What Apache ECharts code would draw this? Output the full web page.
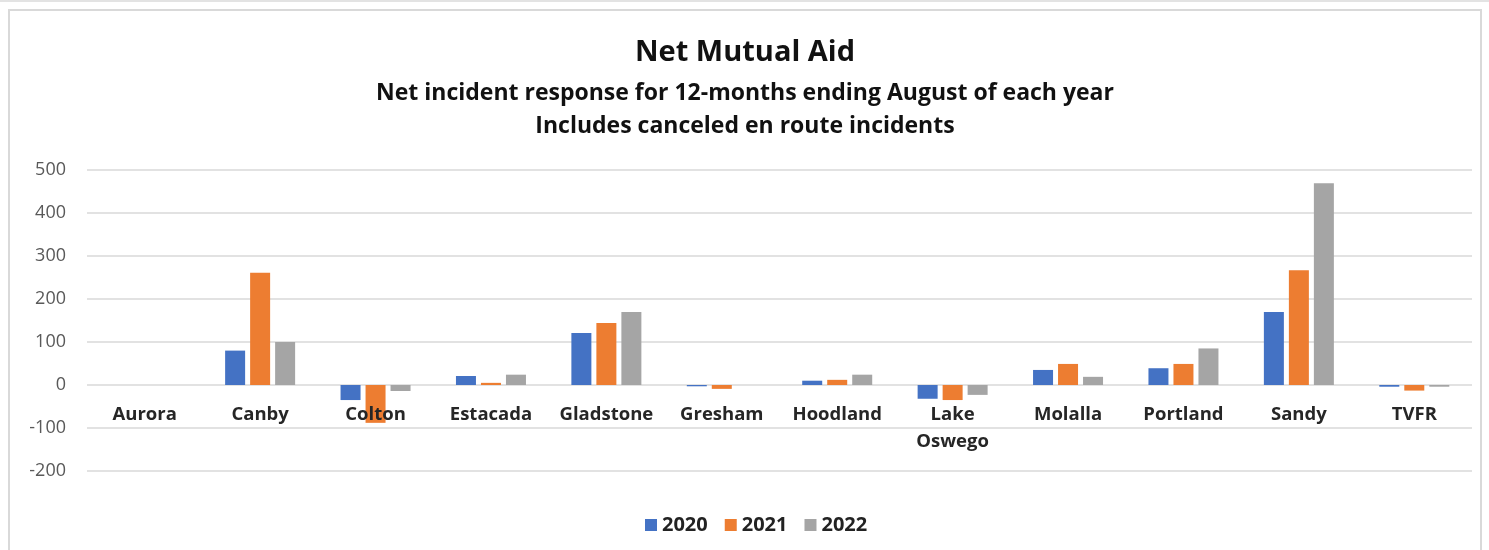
<!DOCTYPE html>
<html>
<head>
<meta charset="utf-8">
<script src="https://cdn.jsdelivr.net/npm/echarts@6/dist/echarts.min.js"></script>
<style>
  html, body { margin: 0; padding: 0; background: #fff; }
  #topline { position: absolute; left: 0; top: 0; width: 1489px; height: 2px; background: #e3e3e3; }
  #container { position: absolute; left: 8px; top: 9px; width: 1474px; height: 545px; border: 2px solid #d9d9d9; box-sizing: border-box; }
</style>
</head>
<body>
<div id="topline"></div>
<div id="container"></div>
<script>
const categories = ["Aurora", "Canby", "Colton", "Estacada", "Gladstone", "Gresham",
  "Hoodland", "Lake\nOswego", "Molalla", "Portland", "Sandy", "TVFR"];
const years = ["2020", "2021", "2022"];
const values2020 = [0, 80, -35, 21, 121, -3, 10, -32, 35, 39, 170, -4];
const values2021 = [0, 261, -88, 5, 144, -9, 12, -35, 49, 49, 267, -13];
const values2022 = [0, 100, -14, 24, 170, 0, 24, -23, 19, 85, 469, -4];
const yTicks = [-200, 500, 100]; // min, max, interval

let dom = document.getElementById("container");
let myChart = echarts.init(dom, null, { renderer: "canvas" });

const colors = ["#4472C4", "#ED7D31", "#A5A5A5"];
const seriesData = [values2020, values2021, values2022];
const titleFont = "Open Sans";

// grid is 301px tall for 700 units -> zero line sits 2 ticks (86px) above bottom
const gridTop = 159, gridBottom = 81, gridH = 301;
const zeroOffset = -gridH * (0 - yTicks[0]) / (yTicks[1] - yTicks[0]);

let option = {
  animation: false,
  color: colors,
  title: [
    {
      text: "Net Mutual Aid",
      left: "center",
      top: 22,
      textStyle: { fontFamily: titleFont, fontSize: 29, fontWeight: "bold", color: "#111" },
    },
    {
      text: "Net incident response for 12-months ending August of each year",
      left: "center",
      top: 66,
      textStyle: { fontFamily: titleFont, fontSize: 23, fontWeight: "bold", color: "#111" },
    },
    {
      text: "Includes canceled en route incidents",
      left: "center",
      top: 99,
      textStyle: { fontFamily: titleFont, fontSize: 23, fontWeight: "bold", color: "#111" },
    },
  ],
  legend: {
    top: 499,
    left: 630,
    itemWidth: 12,
    itemHeight: 12,
    itemGap: 17,
    icon: "rect",
    textStyle: { fontFamily: titleFont, fontSize: 20, fontWeight: "bold", color: "#222" },
    data: years,
  },
  grid: { left: 77, right: 8, top: gridTop, bottom: gridBottom },
  xAxis: {
    type: "category",
    data: categories,
    offset: zeroOffset,
    z: 10,
    axisLine: { show: false, onZero: false },
    axisTick: { show: false },
    axisLabel: {
      fontFamily: titleFont,
      fontSize: 18.5,
      fontWeight: "bold",
      color: "#262626",
      lineHeight: 27,
      margin: 16,
      interval: 0,
    },
  },
  yAxis: {
    type: "value",
    min: yTicks[0],
    max: yTicks[1],
    interval: yTicks[2],
    axisLine: { show: false },
    axisTick: { show: false },
    axisLabel: { fontFamily: titleFont, fontSize: 18, color: "#595959", margin: 21 },
    splitLine: { lineStyle: { color: "#d9d9d9", width: 1.5 } },
  },
  series: years.map((y, i) => ({
    name: y,
    type: "bar",
    data: seriesData[i],
    barWidth: 20,
    barGap: "25%",
  })),
};

if (option && typeof option === "object") {
  myChart.setOption(option);
}

window.addEventListener("resize", myChart.resize);
</script>
</body>
</html>
